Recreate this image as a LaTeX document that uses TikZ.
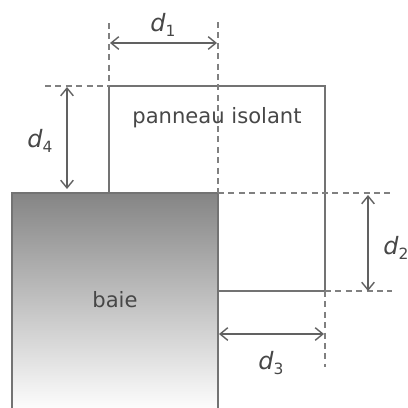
\documentclass[tikz,border=0pt]{standalone}
\usepackage{fontspec}
\setmainfont{DejaVu Sans}
\usetikzlibrary{arrows.meta}
\begin{document}
\begin{tikzpicture}[x=0.025cm,y=-0.025cm]

      \tikzset{wall/.style={draw=black!55, line width=1pt},
      	guide/.style={draw=black!50, dashed, dash pattern=on 4.2pt off 3.2pt, line width=.95pt},
      	dim/.style={draw=black!62, line width=1pt, {Straight Barb[length=5.5pt,width=9pt]}-{Straight Barb[length=5.5pt,width=9pt]}},
      	lab/.style={text=black!72, font=\fontsize{15}{18}\selectfont, inner sep=0pt},
      	dlab/.style={text=black!72, font=\fontsize{17}{20}\selectfont, inner sep=0pt}}
      \useasboundingbox (0,0) rectangle (408,408);
%% Corners
      	\coordinate (b1) at (12,408);
      	\coordinate (b2) at (12,193);
      	\coordinate (b3) at (218,193);
      	\coordinate (b4) at (218,408);
      	\coordinate (p1) at (109,193);
      	\coordinate (p2) at (109,86);
      	\coordinate (p3) at (325,86);
      	\coordinate (p4) at (325,291);
      	\coordinate (p5) at (218,291);
%% Guide ends
      	\coordinate (g1) at (109,23);
      	\coordinate (g2) at (218,22);
      	\coordinate (g3) at (45,86);
      	\coordinate (g4) at (392,193);
      	\coordinate (g5) at (392,291);
      	\coordinate (g6) at (325,367);
%% Arrow ends
      	\coordinate (d1a) at (110,43);
      	\coordinate (d1b) at (217,43);
      	\coordinate (d2a) at (368,195);
      	\coordinate (d2b) at (368,291);
      	\coordinate (d3a) at (219,334);
      	\coordinate (d3b) at (324,334);
      	\coordinate (d4a) at (67,87);
      	\coordinate (d4b) at (67,189);
%Baie
		\shade[top color=black!48, bottom color=black!1] (b1) rectangle (b3);
		\path[wall] (b1) -- (b2) -- (b3) -- (b4);
%Panel
		\path[wall] (p1) -- (p2) -- (p3) -- (p4) -- (p5);
%Guides
		\path[guide] (g1) -- (p2);
		\path[guide] (g2) -- (b3);
		\path[guide] (g3) -- (p2);
		\path[guide] (b3) -- (g4);
		\path[guide] (p4) -- (g5);
		\path[guide] (p4) -- (g6);
%Arrows
		\path[dim] (d1a) -- (d1b);
		\path[dim] (d2a) -- (d2b);
		\path[dim] (d3a) -- (d3b);
		\path[dim] (d4a) -- (d4b);
%Labels
		\node[lab] (panneau) at (217,118) {panneau isolant};
		\node[lab] (baie) at (115,300) {baie};
		\node[dlab] (l1) at (163,25) {\textit{d}\raisebox{-.35ex}{\fontsize{11}{12}\selectfont 1}};
		\node[dlab] (l2) at (396,248) {\textit{d}\raisebox{-.35ex}{\fontsize{11}{12}\selectfont 2}};
		\node[dlab] (l3) at (271,363) {\textit{d}\raisebox{-.35ex}{\fontsize{11}{12}\selectfont 3}};
		\node[dlab] (l4) at (40,141) {\textit{d}\raisebox{-.35ex}{\fontsize{11}{12}\selectfont 4}};

	\end{tikzpicture}
\end{document}
